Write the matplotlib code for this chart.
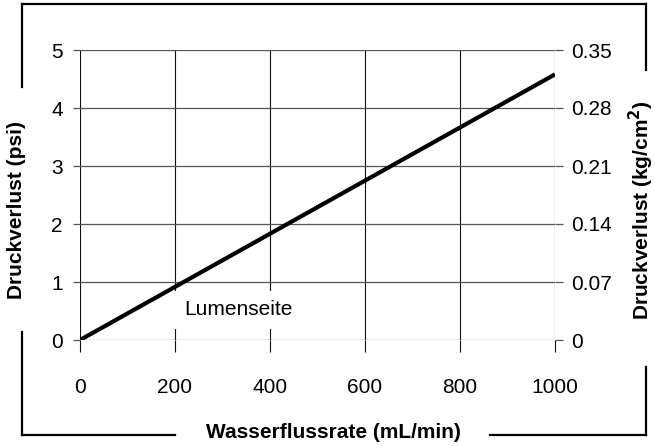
import matplotlib
matplotlib.use("Agg")
import matplotlib.pyplot as plt
from matplotlib.lines import Line2D
import numpy as np

plt.rcParams['font.family'] = ['Liberation Sans', 'DejaVu Sans']

flow = [0, 1000]
pressure_psi = [0, 4.58]
x_ticks = [0, 200, 400, 600, 800, 1000]
y_ticks = [0, 1, 2, 3, 4, 5]
y2_ticks = [0, 0.07, 0.14, 0.21, 0.28, 0.35]
y2_labels = ['0', '0.07', '0.14', '0.21', '0.28', '0.35']

W, H = 655, 446
fig = plt.figure(figsize=(W/100, H/100), dpi=100)
ax = fig.add_axes([80/W, 1-340/H, 475/W, 290/H])
ax.set_xlim(0, 1000)
ax.set_ylim(0, 5)
ax.set_xticks(x_ticks)
ax.set_yticks(y_ticks)
ax.xaxis.grid(True, color='#111111', lw=0.8)
ax.yaxis.grid(True, color='#555555', lw=0.9)
ax.set_axisbelow(True)
for s in ax.spines.values():
    s.set_visible(False)
ax.tick_params(axis='x', length=8.6, width=0.8, color='#111111', labelsize=15, pad=19)
ax.tick_params(axis='y', length=5.3, width=0.9, color='#555555', labelsize=15, pad=7)

ax2 = ax.twinx()
ax2.set_ylim(0, 0.35)
ax2.set_yticks(y2_ticks)
ax2.set_yticklabels(y2_labels)
for s in ax2.spines.values():
    s.set_visible(False)
ax2.tick_params(axis='y', length=5.8, width=0.9, color='#555555', labelsize=15, pad=6)

ax.text(219, 0.52, 'Lumenseite', fontsize=15, ha='left', va='center', zorder=3,
        bbox=dict(facecolor='white', edgecolor='none', pad=7))
ax.plot(flow, pressure_psi, color='black', lw=3.0, solid_capstyle='butt', zorder=4)

fig.text(17/W, 1-210/H, 'Druckverlust (psi)', rotation=90, ha='center', va='center',
         fontsize=15, fontweight='bold')
fig.text(641/W, 1-210/H, r'Druckverlust (kg/cm$^{\mathbf{2}}$)', rotation=90, ha='center',
         va='center', fontsize=15, fontweight='bold')
fig.text(333/W, 1-432/H, 'Wasserflussrate (mL/min)', ha='center', va='center',
         fontsize=15, fontweight='bold')

def fl(x0, y0, x1, y1):
    fig.add_artist(Line2D([x0/W, x1/W], [1-y0/H, 1-y1/H], color='black', lw=1.6,
                          transform=fig.transFigure, solid_capstyle='projecting'))

fl(22, 4, 646, 4)
fl(22, 4, 22, 87)
fl(646, 4, 646, 70)
fl(22, 332, 22, 435)
fl(22, 435, 175, 435)
fl(490, 435, 646, 435)
fl(646, 435, 646, 367)

fig.savefig('out.png', dpi=100)
